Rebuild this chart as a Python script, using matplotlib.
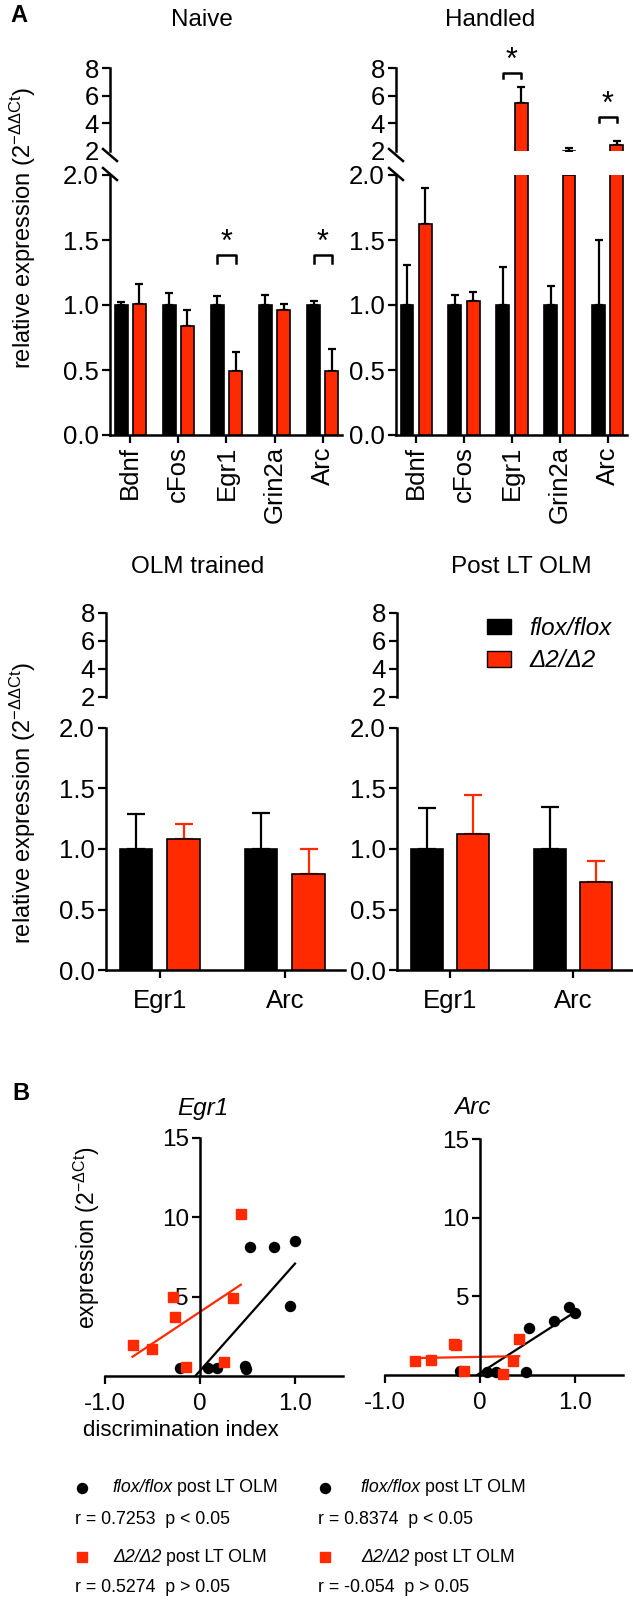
import numpy as np
import matplotlib
matplotlib.use("Agg")
import matplotlib.pyplot as plt
from matplotlib.lines import Line2D
from matplotlib.patches import Patch

plt.rcParams['font.family'] = ['Liberation Sans', 'DejaVu Sans']
plt.rcParams['mathtext.fontset'] = 'custom'
plt.rcParams['mathtext.rm'] = 'Liberation Sans'
plt.rcParams['mathtext.it'] = 'Liberation Sans:italic'
plt.rcParams['mathtext.default'] = 'regular'

RED = '#ff2a00'

# ---------------- data ----------------
genes_top = ['Bdnf', 'cFos', 'Egr1', 'Grin2a', 'Arc']
naive_flox = [1.00, 1.00, 1.00, 1.00, 1.00]
naive_flox_top = [1.02, 1.09, 1.07, 1.08, 1.03]
naive_d2 = [1.01, 0.84, 0.49, 0.96, 0.49]
naive_d2_top = [1.16, 0.96, 0.64, 1.01, 0.66]
naive_sig = ['Egr1', 'Arc']
naive_sig_y = [1.385, 1.385]

handled_flox = [1.00, 1.00, 1.00, 1.00, 1.00]
handled_flox_top = [1.31, 1.08, 1.29, 1.15, 1.50]
handled_d2 = [1.62, 1.03, 5.5, 2.0, 2.4]
handled_d2_top = [1.90, 1.10, 6.6, 2.25, 2.7]
handled_sig = ['Egr1', 'Arc']
handled_sig_y = [7.66, 4.47]

genes_bottom = ['Egr1', 'Arc']
olm_flox = [1.00, 1.00]
olm_flox_top = [1.29, 1.30]
olm_d2 = [1.08, 0.79]
olm_d2_top = [1.21, 1.00]
post_flox = [1.00, 1.00]
post_flox_top = [1.34, 1.35]
post_d2 = [1.12, 0.73]
post_d2_top = [1.45, 0.90]

egr1_flox_x = [-0.21, 0.08, 0.175, 0.47, 0.48, 0.53, 0.78, 1.00, 0.95]
egr1_flox_y = [0.48, 0.48, 0.53, 0.65, 0.42, 8.15, 8.10, 8.50, 4.40]
egr1_d2_x = [-0.71, -0.51, -0.28, -0.26, -0.15, 0.43, 0.35, 0.25]
egr1_d2_y = [1.95, 1.70, 4.96, 3.70, 0.55, 10.2, 4.90, 0.86]
arc_flox_x = [-0.21, 0.07, 0.17, 0.48, 0.51, 0.77, 0.93, 1.00]
arc_flox_y = [0.23, 0.17, 0.19, 0.17, 3.00, 3.45, 4.33, 3.97]
arc_d2_x = [-0.69, -0.52, -0.28, -0.25, -0.165, 0.24, 0.34, 0.41]
arc_d2_y = [0.86, 0.97, 1.95, 1.90, 0.23, 0.08, 0.86, 2.27]

egr1_stats = ['r = 0.7253  p < 0.05', 'r = 0.5274  p > 0.05']
arc_stats = ['r = 0.8374  p < 0.05', 'r = -0.054  p > 0.05']

# ---------------- layout helpers ----------------
W, H = 633, 1603
fig = plt.figure(figsize=(W / 100, H / 100), dpi=100)


def rect(x0, y0, x1, y1):
    return [x0 / W, 1 - y1 / H, (x1 - x0) / W, (y1 - y0) / H]


def fx(x):
    return x / W


def fy(y):
    return 1 - y / H


TICK_FS = 18.5
SPINE_LW = 1.8


def style(ax, left=True, bottom=True):
    for s in ['top', 'right']:
        ax.spines[s].set_visible(False)
    ax.spines['left'].set_visible(left)
    ax.spines['bottom'].set_visible(bottom)
    for s in ['left', 'bottom']:
        ax.spines[s].set_linewidth(SPINE_LW)
    ax.tick_params(axis='both', direction='out', length=6, width=1.6,
                   labelsize=TICK_FS, pad=2)
    ax.set_facecolor('none')


def draw_bars(ax, x, flox, flox_top, d2, d2_top, w, off, d2_err_color, cap, ymin):
    flox = np.array(flox); d2 = np.array(d2)
    ftop = np.array(flox_top); dtop = np.array(d2_top)
    ax.bar(x - off, flox, w, color='black', edgecolor='black', lw=1.2, zorder=3)
    ax.bar(x + off, d2, w, color=RED, edgecolor='black', lw=1.2, zorder=3)
    for xs, v, t, c in [(x - off, flox, ftop, 'black'), (x + off, d2, dtop, d2_err_color)]:
        m = t > ymin + 0.02
        if m.any():
            ax.errorbar(xs[m], v[m], yerr=[np.zeros(m.sum()), (t - v)[m]], fmt='none',
                        ecolor=c, elinewidth=1.6, capsize=cap, capthick=1.6, zorder=2)


def slash(xs, yc):
    fig.add_artist(Line2D([fx(xs - 7), fx(xs + 7)], [fy(yc - 6), fy(yc + 6)],
                          color='black', lw=1.8))


def sig(ax, xc, ytop, dy, star_dy):
    ax.plot([xc - 0.19, xc - 0.19, xc + 0.19, xc + 0.19],
            [ytop - dy, ytop, ytop, ytop - dy], color='black', lw=1.8,
            clip_on=False, zorder=4)
    ax.text(xc, ytop + star_dy, '*', ha='center', va='center', fontsize=22,
            clip_on=False)


def top_panel(xl, xr, flox, flox_top, d2, d2_top):
    lo = fig.add_axes(rect(xl, 175, xr, 435))
    hi = fig.add_axes(rect(xl, 68, xr, 151))
    x = np.arange(len(genes_top))
    draw_bars(lo, x, flox, flox_top, d2, d2_top, 0.27, 0.19, 'black', 3.0, 0)
    draw_bars(hi, x, flox, flox_top, d2, d2_top, 0.27, 0.19, 'black', 3.0, 2)
    for ax in (lo, hi):
        ax.set_xlim(-0.42, 4.4)
    lo.set_ylim(0, 2)
    hi.set_ylim(2, 8)
    style(lo)
    style(hi, bottom=False)
    lo.set_yticks([0, 0.5, 1.0, 1.5, 2.0])
    lo.set_yticklabels(['0.0', '0.5', '1.0', '1.5', '2.0'])
    lo.set_xticks(x)
    lo.set_xticklabels(genes_top, rotation=90)
    hi.set_yticks([2, 4, 6, 8])
    hi.set_yticklabels(['2', '4', '6', '8'])
    hi.yaxis.get_major_ticks()[0].tick1line.set_visible(False)
    hi.set_xticks([])
    slash(xl, 155)
    slash(xl, 174)
    return lo, hi


# ---------------- Panel A top ----------------
lo_n, hi_n = top_panel(110, 342, naive_flox, naive_flox_top, naive_d2, naive_d2_top)
for g, yv in zip(naive_sig, naive_sig_y):
    sig(lo_n, genes_top.index(g), yv, 0.06, 0.09)

lo_h, hi_h = top_panel(396, 627, handled_flox, handled_flox_top, handled_d2,
                       handled_d2_top)
for g, yv in zip(handled_sig, handled_sig_y):
    sig(hi_h, genes_top.index(g), yv, 0.35, 0.85)

fig.text(fx(202), fy(20), 'Naive', ha='center', va='center', fontsize=17.5)
fig.text(fx(490), fy(20), 'Handled', ha='center', va='center', fontsize=17.5)


# ---------------- Panel A bottom ----------------
def bottom_panel(xl, xr, flox, flox_top, d2, d2_top):
    lo = fig.add_axes(rect(xl, 728, xr, 970))
    hi = fig.add_axes(rect(xl, 613, xr, 697))
    x = np.arange(len(genes_bottom))
    draw_bars(lo, x, flox, flox_top, d2, d2_top, 0.26, 0.19, RED, 6.5, 0)
    draw_bars(hi, x, flox, flox_top, d2, d2_top, 0.26, 0.19, RED, 6.5, 2)
    for ax in (lo, hi):
        ax.set_xlim(-0.43, 1.48)
    lo.set_ylim(0, 2)
    hi.set_ylim(2, 8)
    style(lo)
    style(hi, bottom=False)
    lo.set_yticks([0, 0.5, 1.0, 1.5, 2.0])
    lo.set_yticklabels(['0.0', '0.5', '1.0', '1.5', '2.0'])
    lo.set_xticks(x)
    lo.set_xticklabels(genes_bottom)
    lo.tick_params(axis='x', length=6, pad=8)
    hi.set_yticks([2, 4, 6, 8])
    hi.set_yticklabels(['2', '4', '6', '8'])
    hi.set_xticks([])
    return lo, hi


bottom_panel(106, 345, olm_flox, olm_flox_top, olm_d2, olm_d2_top)
lo_p, hi_p = bottom_panel(397, 632, post_flox, post_flox_top, post_d2, post_d2_top)
fig.text(fx(198), fy(567), 'OLM trained', ha='center', va='center', fontsize=17.5)
fig.text(fx(521), fy(567), 'Post LT OLM', ha='center', va='center', fontsize=17.5)

hi_p.legend(handles=[Patch(facecolor='black', edgecolor='black'),
                     Patch(facecolor=RED, edgecolor='black')],
            labels=['flox/flox', '\u03942/\u03942'],
            prop={'style': 'italic', 'size': 17.5}, frameon=False,
            loc='upper left', bbox_to_anchor=(fx(487), fy(617)),
            bbox_transform=fig.transFigure, borderpad=0, borderaxespad=0,
            handlelength=1.0, handleheight=0.62, handletextpad=0.75,
            labelspacing=0.38)

ylab = 'relative expression (2$^{-\u0394\u0394Ct}$)'
fig.text(fx(23), fy(228), ylab, rotation=90, ha='center', va='center', fontsize=17)
fig.text(fx(23), fy(803), ylab, rotation=90, ha='center', va='center', fontsize=17)

fig.text(fx(10), fy(16), 'A', ha='left', va='center', fontsize=17, fontweight='bold')
fig.text(fx(12), fy(1093), 'B', ha='left', va='center', fontsize=17, fontweight='bold')


# ---------------- Panel B ----------------
def scatter_panel(xl, xr, yt, yb, fx_, fy_, dx_, dy_, title, title_x):
    ax = fig.add_axes(rect(xl, yt, xr, yb))
    ax.set_xlim(-1.0, 1.5)
    ax.set_ylim(0, 15)
    for s in ['top', 'right']:
        ax.spines[s].set_visible(False)
    ax.spines['left'].set_position(('data', 0))
    for s in ['left', 'bottom']:
        ax.spines[s].set_linewidth(SPINE_LW)
    ax.set_facecolor('none')
    ax.tick_params(axis='both', direction='out', length=6, width=1.6,
                   labelsize=17.5, pad=2)
    ax.set_yticks([5, 10, 15])
    ax.set_yticklabels(['5', '10', '15'])
    ax.set_xticks([-1.0, 0, 1.0])
    ax.set_xticklabels(['-1.0', '0', '1.0'])
    ax.tick_params(axis='x', pad=6)
    for xs, ys, col, mk, ms in [(fx_, fy_, 'black', 'o', 7.2), (dx_, dy_, RED, 's', 6.6)]:
        xs = np.array(xs); ys = np.array(ys)
        m, b = np.polyfit(xs, ys, 1)
        xx = np.array([xs.min(), xs.max()])
        ax.plot(xx, m * xx + b, color=col, lw=1.6, zorder=2)
        ax.plot(xs, ys, ls='none', marker=mk, ms=ms, color=col, mec=col,
                clip_on=False, zorder=3)
    fig.text(fx(title_x), fy(1108), title, ha='center', va='center',
             fontsize=17.5, style='italic')
    return ax


scatter_panel(105, 342.5, 1138, 1376, egr1_flox_x, egr1_flox_y, egr1_d2_x, egr1_d2_y,
              'Egr1', 203)
scatter_panel(385, 623, 1139, 1375, arc_flox_x, arc_flox_y, arc_d2_x, arc_d2_y,
              'Arc', 472)

fig.text(fx(87), fy(1238), 'expression (2$^{-\u0394Ct}$)', rotation=90,
         ha='center', va='center', fontsize=16.5)
fig.text(fx(181), fy(1430), 'discrimination index', ha='center', va='center',
         fontsize=16)

# legends under the scatter plots
LFS = 12.8
renderer = fig.canvas.get_renderer()
space_px = 0.278 * LFS * 100 / 72


def mixed(x, y, italic_part, regular_part):
    t = fig.text(fx(x), fy(y), italic_part, ha='left', va='center', fontsize=LFS,
                 style='italic')
    bb = t.get_window_extent(renderer=renderer)
    fig.text((bb.x1 + space_px) / fig.bbox.width, fy(y), regular_part, ha='left',
             va='center', fontsize=LFS)


for (mx, tx, rx, stats) in [(82, 112, 75, egr1_stats), (325, 360, 318, arc_stats)]:
    fig.add_artist(Line2D([fx(mx)], [fy(1488)], marker='o', ms=7.2, color='black',
                          ls='none'))
    mixed(tx, 1488, 'flox/flox', 'post LT OLM')
    fig.text(fx(rx), fy(1520), stats[0], ha='left', va='center', fontsize=LFS)
    fig.add_artist(Line2D([fx(mx)], [fy(1557)], marker='s', ms=6.6, color=RED,
                          ls='none'))
    mixed(tx + 1, 1557, '\u03942/\u03942', 'post LT OLM')
    fig.text(fx(rx), fy(1588), stats[1], ha='left', va='center', fontsize=LFS)

fig.savefig('out.png', dpi=100)
